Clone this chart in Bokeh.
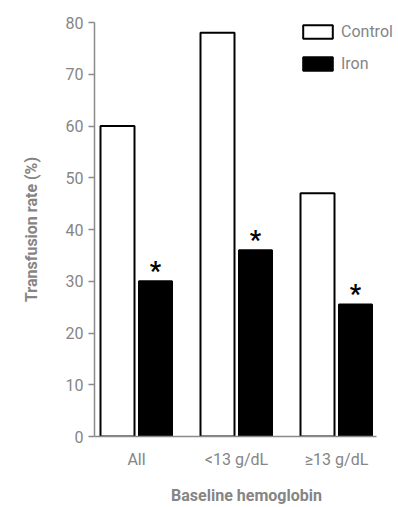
from bokeh.plotting import figure
from bokeh.models import ColumnDataSource, FixedTicker, Legend, LegendItem, Range1d
from bokeh.core.properties import value
from bokeh.embed import file_html
from bokeh.resources import INLINE

categories = ["All", "<13 g/dL", "\u226513 g/dL"]
control = [60, 78, 47]
iron = [30, 36, 25.5]
significant = ["*", "*", "*"]

GRAY = "#8a8a8a"
TEXT_GRAY = "#858585"
FONT = "Roboto"

idx = list(range(len(categories)))
src = ColumnDataSource(dict(
    x_c=[i - 0.19 for i in idx],
    x_i=[i + 0.19 for i in idx],
    control=control,
    iron=iron,
    star=significant,
))

p = figure(width=398, height=507, output_backend="svg", toolbar_location=None,
           x_range=Range1d(-0.42, 2.62), y_range=Range1d(0, 80),
           min_border_left=94, min_border_right=0, min_border_top=22, min_border_bottom=71)
p.outline_line_color = None
p.grid.visible = False
p.background_fill_color = "white"
p.border_fill_color = "white"

rc = p.vbar(x="x_c", top="control", width=0.34, bottom=0, source=src,
            fill_color="white", line_color="black", line_width=2)
ri = p.vbar(x="x_i", top="iron", width=0.33, bottom=0, source=src,
            fill_color="black", line_color="black", line_width=2)

p.text(x="x_i", y="iron", text="star", source=src, text_font=value(FONT),
       text_font_style="bold", text_font_size="25px", text_color="black",
       text_align="center", text_baseline="middle", y_offset=-10)

# axes
p.yaxis.ticker = FixedTicker(ticks=[0, 10, 20, 30, 40, 50, 60, 70, 80])
p.yaxis.major_tick_out = 6
p.yaxis.major_tick_in = 0
p.yaxis.minor_tick_line_color = None
p.yaxis.axis_line_color = GRAY
p.yaxis.axis_line_width = 1.5
p.yaxis.major_tick_line_color = GRAY
p.yaxis.major_tick_line_width = 1.5
p.yaxis.major_label_standoff = 5
p.yaxis.major_label_text_font = FONT
p.yaxis.major_label_text_font_size = "16px"
p.yaxis.major_label_text_color = TEXT_GRAY
p.yaxis.axis_label = "Transfusion rate (%)"
p.yaxis.axis_label_text_font = FONT
p.yaxis.axis_label_text_font_style = "bold"
p.yaxis.axis_label_text_font_size = "16px"
p.yaxis.axis_label_text_color = TEXT_GRAY
p.yaxis.axis_label_standoff = 22

p.xaxis.ticker = FixedTicker(ticks=idx)
p.xaxis.major_label_overrides = {i: c for i, c in zip(idx, categories)}
p.xaxis.bounds = (-0.42, 2.40)
p.xaxis.major_tick_out = 0
p.xaxis.major_tick_in = 0
p.xaxis.minor_tick_line_color = None
p.xaxis.axis_line_color = GRAY
p.xaxis.axis_line_width = 1.5
p.xaxis.major_label_standoff = 13
p.xaxis.major_label_text_font = FONT
p.xaxis.major_label_text_font_size = "16px"
p.xaxis.major_label_text_color = TEXT_GRAY
p.xaxis.axis_label = "Baseline hemoglobin"
p.xaxis.axis_label_text_font = FONT
p.xaxis.axis_label_text_font_style = "bold"
p.xaxis.axis_label_text_font_size = "16px"
p.xaxis.axis_label_text_color = TEXT_GRAY
p.xaxis.axis_label_standoff = 14

legend = Legend(items=[LegendItem(label="Control", renderers=[rc]),
                       LegendItem(label="Iron", renderers=[ri])],
                location=(205, 363), orientation="vertical",
                glyph_width=37, glyph_height=17, label_height=17,
                spacing=13, padding=0, margin=0, label_standoff=5,
                border_line_color=None, background_fill_alpha=0,
                label_text_font=FONT, label_text_font_size="16px",
                label_text_color=TEXT_GRAY)
p.add_layout(legend)

open("out.html", "w").write(file_html(p, INLINE))
